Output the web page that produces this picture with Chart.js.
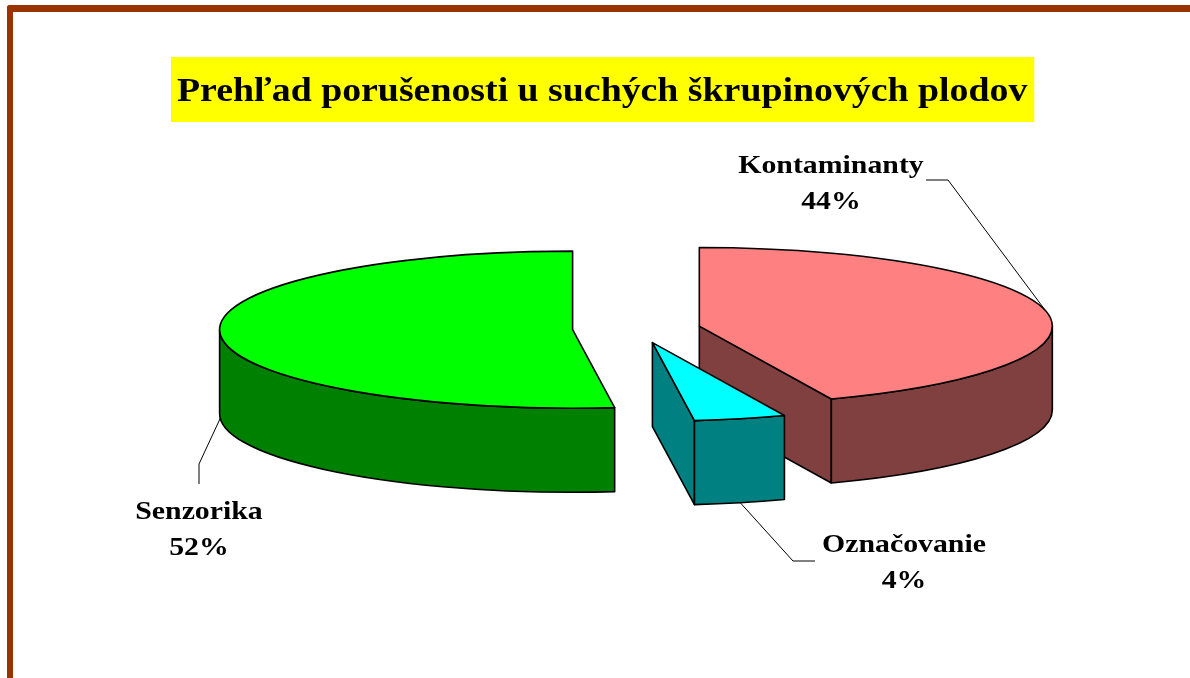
<!DOCTYPE html>
<html>
<head>
<meta charset="utf-8">
<title>Prehľad porušenosti</title>
<script src="https://cdn.jsdelivr.net/npm/chart.js@4"></script>
<style>
    html, body { margin: 0; padding: 0; background: #fff; overflow: hidden; }
    #wrap { position: relative; width: 1190px; height: 678px; overflow: hidden; }
    #frame { position: absolute; left: 7px; top: 5px; width: 1300px; height: 800px; border-top: 7px solid #993300; border-left: 6px solid #993300; border-top-left-radius: 3px; }
    canvas { position: absolute; left: 0; top: 0; }
</style>
</head>
<body>
<div id="wrap">
    <div id="frame"></div>
    <canvas id="myChart" width="1190" height="678"></canvas>
</div>
<script>
    var chartTitle = 'Prehľad porušenosti u suchých škrupinových plodov';
    var categories = ['Kontaminanty', 'Označovanie', 'Senzorika'];
    var shares = [43.9, 4.2, 51.9];
    var topColors = ['#ff8080', '#00ffff', '#00ff00'];
    var wallColors = ['#804040', '#008080', '#008000'];

    // the 3d look: pie is squashed in y and gets a wall below it
    var squash = 0.2225;
    var depth = 84;
    var explode = 64;
    // the original text is stretched sideways
    var textStretch = 1.146;

    // label centre and baseline, then the leader line from the text to its elbow
    var labelSpots = [
        { x: 831, y: 173, from: [926, 180], elbow: [948, 180], side: 'top' },
        { x: 904, y: 552, from: [815, 561], elbow: [793, 561], side: 'bottom' },
        { x: 199, y: 519, from: [199, 484], elbow: [199, 464], side: 'bottom' }
    ];

    function drawWall(ctx, cx, cy, r, a0, a1) {
        ctx.beginPath();
        ctx.ellipse(cx, cy, r, r * squash, 0, a0, a1);
        ctx.ellipse(cx, cy + depth, r, r * squash, 0, a1, a0, true);
        ctx.closePath();
        ctx.fill();
        ctx.stroke();
    }

    function drawFace(ctx, cx, cy, r, a) {
        var x = cx + Math.cos(a) * r;
        var y = cy + Math.sin(a) * r * squash;
        ctx.beginPath();
        ctx.moveTo(cx, cy);
        ctx.lineTo(x, y);
        ctx.lineTo(x, y + depth);
        ctx.lineTo(cx, cy + depth);
        ctx.closePath();
        ctx.fill();
        ctx.stroke();
    }

    var pie3d = {
        id: 'pie3d',
        beforeDraw: function(chart) {
            var ctx = chart.ctx;
            var t = chart.titleBlock;
            ctx.save();
            ctx.font = 'bold 33px "Liberation Serif"';
            var w = ctx.measureText(chartTitle).width * textStretch;
            ctx.fillStyle = '#ffff00';
            ctx.fillRect(t.left - 6, 57, w + 13, 65);
            ctx.restore();
            // stays on while the title draws, undone in beforeDatasetsDraw
            ctx.save();
            ctx.translate(t.left, 0);
            ctx.scale(textStretch, 1);
            ctx.translate(-t.left, 0);
        },
        beforeDatasetsDraw: function(chart) {
            var ctx = chart.ctx;
            ctx.restore();
            var arcs = chart.getDatasetMeta(0).data;

            var slices = arcs.map(function(arc, i) {
                var mid = (arc.startAngle + arc.endAngle) / 2;
                var off = arc.options.offset;
                return {
                    i: i,
                    arc: arc,
                    mid: mid,
                    x: arc.x + Math.cos(mid) * off,
                    y: arc.y + Math.sin(mid) * off * squash
                };
            });
            // back to front
            var order = slices.slice().sort(function(a, b) { return a.y - b.y; });

            ctx.save();
            ctx.strokeStyle = '#000';
            ctx.lineWidth = 1.6;
            ctx.lineJoin = 'round';
            order.forEach(function(s) {
                var a0 = s.arc.startAngle;
                var a1 = s.arc.endAngle;
                var r = s.arc.outerRadius;

                ctx.fillStyle = wallColors[s.i];
                if (Math.cos(a1) > 0.001) {
                    drawFace(ctx, s.x, s.y, r, a1);
                }
                if (Math.cos(a0) < -0.001) {
                    drawFace(ctx, s.x, s.y, r, a0);
                }
                var from = Math.max(a0, 0);
                var to = Math.min(a1, Math.PI);
                if (to > from) {
                    drawWall(ctx, s.x, s.y, r, from, to);
                }

                ctx.fillStyle = s.arc.options.backgroundColor;
                ctx.beginPath();
                ctx.moveTo(s.x, s.y);
                ctx.ellipse(s.x, s.y, r, r * squash, 0, a0, a1);
                ctx.closePath();
                ctx.fill();
                ctx.stroke();
            });
            ctx.restore();

            // leader lines end on the middle of each slice's rim
            ctx.save();
            ctx.strokeStyle = '#000';
            ctx.lineWidth = 1;
            slices.forEach(function(s) {
                var spot = labelSpots[s.i];
                var r = s.arc.outerRadius;
                var endX = s.x + Math.cos(s.mid) * r;
                var endY = s.y + Math.sin(s.mid) * r * squash + (spot.side === 'bottom' ? depth : 0);
                ctx.beginPath();
                ctx.moveTo(spot.from[0], spot.from[1]);
                ctx.lineTo(spot.elbow[0], spot.elbow[1]);
                ctx.lineTo(endX, endY);
                ctx.stroke();
            });
            ctx.restore();

            labelSpots.forEach(function(spot, i) {
                ctx.save();
                ctx.fillStyle = '#000';
                ctx.font = 'bold 26px "Liberation Serif"';
                ctx.textAlign = 'center';
                ctx.textBaseline = 'alphabetic';
                ctx.translate(spot.x, spot.y);
                ctx.scale(textStretch, 1);
                ctx.fillText(categories[i], 0, 0);
                ctx.fillText(Math.round(shares[i]) + '%', 0, 36);
                ctx.restore();
            });

            return false;
        }
    };

    const ctx = document.getElementById('myChart').getContext('2d');
    var myChart = new Chart(ctx, {
        type: 'pie',
        data: {
            labels: categories,
            datasets: [{
                data: shares,
                backgroundColor: topColors,
                offset: explode,
                radius: 353
            }]
        },
        options: {
            responsive: false,
            animation: false,
            layout: {
                padding: { left: 177, right: 94, top: 0, bottom: 133 }
            },
            plugins: {
                legend: { display: false },
                tooltip: { enabled: false },
                title: {
                    display: true,
                    text: chartTitle,
                    align: 'start',
                    color: '#000',
                    font: { family: '"Liberation Serif"', size: 33, weight: 'bold' },
                    padding: { top: 73, bottom: 0 }
                }
            }
        },
        plugins: [pie3d]
    });
</script>
</body>
</html>
